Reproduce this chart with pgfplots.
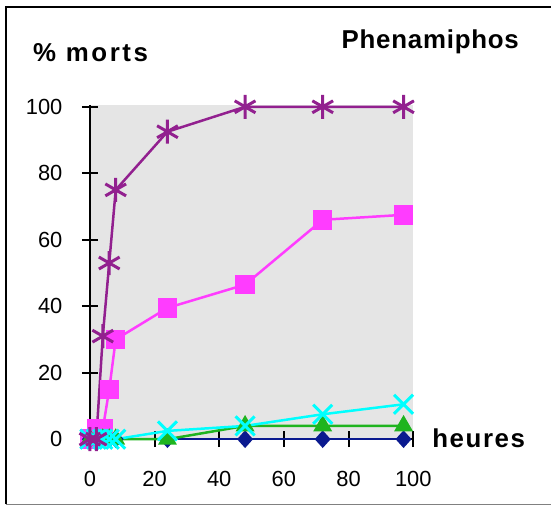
\documentclass[border=0pt]{standalone}
\usepackage{pgfplots}
\pgfplotsset{compat=1.18}
\usepackage{fontspec}
\setmainfont{Liberation Sans}

\definecolor{cpurple}{RGB}{146,32,143}
\definecolor{cpink}{RGB}{255,60,255}
\definecolor{ccyan}{RGB}{0,255,255}
\definecolor{cgreen}{RGB}{31,180,31}
\definecolor{cnavy}{RGB}{10,26,143}

\begin{document}
\begin{tikzpicture}[x=1bp,y=1bp]
\path (0,0) rectangle (552,506);
\draw[line width=2bp] (6,1) -- (6,499) -- (552,499);
\draw[gray, line width=1bp] (6,1) -- (552,1);
\begin{axis}[
  at={(90bp,66bp)}, anchor=south west,
  scale only axis, width=324bp, height=335bp,
  xmin=0, xmax=100, ymin=0, ymax=100.6,
  clip=false,
  axis lines=left,
  axis line style={-, line width=2bp, black},
  axis background/.style={fill=black!10},
  xtick={0,20,...,100}, ytick={0,20,...,100},
  tick style={black, line width=2bp},
  major tick length=16bp, tick align=center,
  tick label style={font=\fontsize{22}{22}\selectfont},
  /pgf/number format/assume math mode=true,
  yticklabel style={xshift=-16bp},
  xticklabel style={yshift=-21bp},
  every axis plot/.append style={line width=2.5bp},
]
\addplot[cpink, mark=square*, mark size=8.5bp] coordinates {
  (0,0) (2,3) (4,3) (6,15) (8,30) (24,39.5) (48,46.5) (72,66) (97,67.5)};
\addplot[cnavy, mark=diamond*, mark size=7bp, mark options={xscale=1.2}] coordinates {
  (0,0) (2,0) (4,0) (6,0) (8,0) (24,0) (48,0) (72,0) (97,0)};
\addplot[cgreen, mark=triangle*, mark size=8.5bp] coordinates {
  (0,0) (2,0) (4,0) (6,0) (8,0) (24,0) (48,4) (72,4) (97,4)};
\addplot[ccyan, mark=x, mark size=9bp, mark options={scale=1.5, line width=3bp}] coordinates {
  (0,0) (2,0) (4,0) (6,0) (8,0) (24,2.5) (48,4) (72,7.5) (97,10.5)};
\addplot[cpurple, mark=asterisk, mark size=10bp, mark options={scale=1.2, line width=3bp}] coordinates {
  (0,0) (2,0) (4,31) (6,53) (8,75) (24,92.5) (48,100) (72,100) (97,100)};
\end{axis}
\node[anchor=base west, inner sep=0] at (33,444) {\fontsize{26}{26}\selectfont\bfseries\addfontfeature{LetterSpace=10}\% morts};
\node[anchor=base west, inner sep=0] at (342,457) {\fontsize{26}{26}\selectfont\bfseries\addfontfeature{LetterSpace=3}Phenamiphos};
\node[anchor=base west, inner sep=0] at (433,58) {\fontsize{26}{26}\selectfont\bfseries\addfontfeature{LetterSpace=6}heures};
\end{tikzpicture}
\end{document}
